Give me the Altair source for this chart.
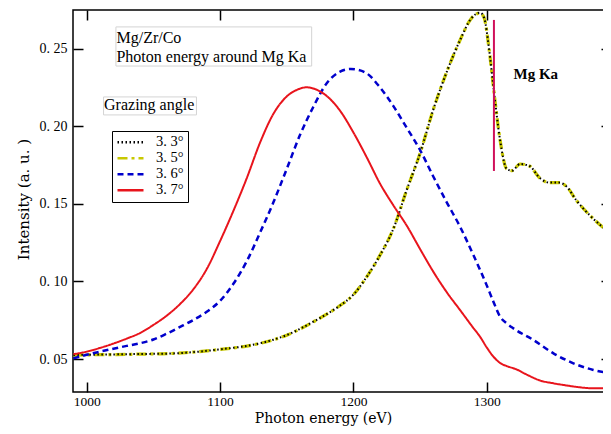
import altair as alt
import pandas as pd

# ---------------- data ----------------
angles = ["3.3°", "3.5°", "3.6°", "3.7°"]
colors = ["#000000", "#c8c800", "#0000cc", "#e8141c"]
dashes = [[1.5, 2.5], [10, 4, 3, 4], [6, 4], [1, 0]]
widths = [2, 3.2, 2.5, 2]

e_33 = [990, 1000, 1020, 1040, 1060, 1080, 1100, 1120, 1130, 1140, 1150, 1160, 1170,
        1180, 1190, 1200, 1210, 1220, 1230, 1240, 1250, 1260, 1270, 1280, 1288, 1295,
        1298, 1302, 1305, 1310, 1315, 1319, 1325, 1332, 1340, 1347, 1354, 1360, 1367,
        1377, 1391]
i_33 = [0.0526, 0.0528, 0.0530, 0.0533, 0.0535, 0.0545, 0.0563, 0.0585, 0.0602, 0.0625,
        0.0655, 0.0695, 0.0741, 0.0790, 0.0845, 0.0915, 0.1030, 0.1170, 0.1340, 0.1590,
        0.1826, 0.2110, 0.2350, 0.2555, 0.2690, 0.2732, 0.2700, 0.2480, 0.2255, 0.1912,
        0.1725, 0.1714, 0.1757, 0.1744, 0.1665, 0.1637, 0.1637, 0.1611, 0.1525, 0.1429,
        0.1321]

e_35 = [990, 1000, 1020, 1040, 1060, 1080, 1100, 1120, 1130, 1140, 1150, 1160, 1170,
        1180, 1190, 1200, 1210, 1220, 1230, 1240, 1250, 1260, 1270, 1280, 1288, 1295,
        1298, 1302, 1305, 1310, 1315, 1319, 1325, 1332, 1340, 1347, 1354, 1360, 1367,
        1377, 1391]
i_35 = [0.0524, 0.0527, 0.0529, 0.0532, 0.0535, 0.0545, 0.0562, 0.0584, 0.0601, 0.0624,
        0.0654, 0.0694, 0.0740, 0.0789, 0.0845, 0.0915, 0.1030, 0.1170, 0.1340, 0.1590,
        0.1826, 0.2110, 0.2350, 0.2555, 0.2690, 0.2730, 0.2700, 0.2480, 0.2255, 0.1912,
        0.1725, 0.1714, 0.1757, 0.1744, 0.1665, 0.1637, 0.1637, 0.1611, 0.1525, 0.1429,
        0.1321]

e_36 = [990, 1000, 1010, 1020, 1030, 1040, 1050, 1060, 1070, 1080, 1090, 1100, 1110,
        1120, 1130, 1140, 1150, 1160, 1170, 1180, 1190, 1198, 1205, 1210, 1220, 1230,
        1240, 1250, 1260, 1270, 1280, 1290, 1300, 1305, 1310, 1315, 1320, 1335, 1350,
        1365, 1380, 1392]
i_36 = [0.0505, 0.0528, 0.0548, 0.0567, 0.0585, 0.0602, 0.0626, 0.0664, 0.0707, 0.0752,
        0.0805, 0.0875, 0.0985, 0.1130, 0.1315, 0.1510, 0.1725, 0.1945, 0.2126, 0.2277,
        0.2352, 0.2369, 0.2360, 0.2341, 0.2250, 0.2130, 0.1990, 0.1847, 0.1675, 0.1510,
        0.1353, 0.1170, 0.0975, 0.0870, 0.0773, 0.0730, 0.0698, 0.0623, 0.0537, 0.0473,
        0.0430, 0.0409]

e_37 = [990, 1000, 1010, 1020, 1030, 1040, 1050, 1060, 1070, 1080, 1090, 1100, 1110,
        1120, 1130, 1140, 1150, 1158, 1165, 1172, 1180, 1190, 1200, 1210, 1220, 1230,
        1240, 1250, 1260, 1270, 1280, 1290, 1295, 1300, 1305, 1310, 1315, 1322, 1330,
        1340, 1350, 1360, 1370, 1380, 1392]
i_37 = [0.0532, 0.0548, 0.0572, 0.0600, 0.0632, 0.0668, 0.0720, 0.0780, 0.0855, 0.0950,
        0.1080, 0.1260, 0.1455, 0.1665, 0.1895, 0.2080, 0.2192, 0.2236, 0.2251, 0.2237,
        0.2195, 0.2100, 0.1960, 0.1800, 0.1630, 0.1490, 0.1360, 0.1209, 0.1062, 0.0931,
        0.0816, 0.0700, 0.0644, 0.0575, 0.0516, 0.0475, 0.0455, 0.0435, 0.0400, 0.0362,
        0.0344, 0.0330, 0.0318, 0.0312, 0.0312]

x_ticks = [1000, 1100, 1200, 1300]
y_ticks = [0.05, 0.10, 0.15, 0.20, 0.25]
x_domain = [989.7, 1393.2]
y_domain = [0.0288, 0.2749]

mg_line_e = [1305.4]
mg_line_lo = [0.1712]
mg_line_hi = [0.2685]
mg_label = ["Mg Ka"]
mg_label_e = [1320.1]
mg_label_i = [0.2307]

note_texts = ["Mg/Zr/Co", "Photon energy around Mg Ka", "Grazing angle"]
note_e = [1022.3, 1022.3, 1013.0]
note_i = [0.2536, 0.2414, 0.2105]
box_e0 = [1021.9, 1012.6]
box_e1 = [1168.7, 1082.3]
box_i0 = [0.2388, 0.2073]
box_i1 = [0.2640, 0.2189]

# ---------------- tables ----------------
series = {"3.3°": (e_33, i_33), "3.5°": (e_35, i_35), "3.6°": (e_36, i_36), "3.7°": (e_37, i_37)}
rows = []
for a, (es, iv) in series.items():
    for e, v in zip(es, iv):
        rows.append({"angle": a, "E": e, "I": v})
df = pd.DataFrame(rows)

mg_df = pd.DataFrame({"E": mg_line_e, "I0": mg_line_lo, "I1": mg_line_hi})
mg_lbl = pd.DataFrame({"E": mg_label_e, "I": mg_label_i, "t": mg_label})
notes = pd.DataFrame({"E": note_e, "I": note_i, "t": note_texts})
boxes = pd.DataFrame({"E0": box_e0, "E1": box_e1, "I0": box_i0, "I1": box_i1})

xs = alt.Scale(domain=x_domain, nice=False, zero=False)
ys = alt.Scale(domain=y_domain, nice=False, zero=False)

ax_x_main = alt.Axis(values=x_ticks, ticks=False, tickSize=0, domain=False, grid=False,
                     format="d",
                     labelFont="Liberation Serif", labelFontSize=13.5, labelColor="black",
                     labelPadding=2, labelFlush=False,
                     title="Photon energy (eV)", titleFont="DejaVu Serif", titleFontSize=14,
                     titleFontWeight="normal", titleColor="black", titleX=250, titleY=30,
                     titleBaseline="alphabetic", titleAlign="center")
ax_y_main = alt.Axis(values=y_ticks, ticks=False, tickSize=0, domain=False, grid=False,
                     labelExpr="replace(format(datum.value, '.2f'), '.', '. ')",
                     labelFont="Liberation Serif", labelFontSize=14, labelColor="black",
                     labelPadding=6, labelFlush=False,
                     title="Intensity (a. u. )", titleFont="DejaVu Serif", titleFontSize=15,
                     titleFontWeight="normal", titleColor="black", titleX=-45, titleY=189,
                     titleAngle=270, titleBaseline="alphabetic", titleAlign="center")


def tick_axis(orient, vals):
    return alt.Axis(orient=orient, values=vals, offset=-10, tickSize=10, tickWidth=1.5,
                    tickColor="black", labels=False, domain=False, grid=False)


legend = alt.Legend(title=None, orient="none", legendX=39, legendY=121,
                    symbolType="stroke", symbolSize=676, symbolStrokeWidth=2.5,
                    labelFont="Liberation Serif", labelFontSize=14.5, labelColor="black",
                    labelOffset=11, clipHeight=14.4, rowPadding=0, padding=4,
                    strokeColor="black", labelExpr="replace(datum.label, '.', '. ')")

color = alt.Color("angle:N", scale=alt.Scale(domain=angles, range=colors), legend=legend)
dash = alt.StrokeDash("angle:N", scale=alt.Scale(domain=angles, range=dashes), legend=legend)

draw_order = ["3.5°", "3.3°", "3.6°", "3.7°"]
line_layers = []
for k, a in enumerate(draw_order):
    w = widths[angles.index(a)]
    if k == 0:
        xenc = alt.X("E:Q", scale=xs, axis=ax_x_main)
        yenc = alt.Y("I:Q", scale=ys, axis=ax_y_main)
    else:
        xenc = alt.X("E:Q", scale=xs, axis=None)
        yenc = alt.Y("I:Q", scale=ys, axis=None)
    line_layers.append(
        alt.Chart(df).transform_filter(alt.datum.angle == a)
        .mark_line(interpolate="monotone", strokeWidth=w, strokeCap="butt", clip=True)
        .encode(x=xenc, y=yenc, color=color, strokeDash=dash, order=alt.Order("E:Q"))
    )

box_layer = alt.Chart(boxes).mark_rect(fill="white", stroke="#d4d4d4", strokeWidth=1).encode(
    x=alt.X("E0:Q", scale=xs, axis=None), x2="E1:Q",
    y=alt.Y("I0:Q", scale=ys, axis=None), y2="I1:Q")

note_layer = alt.Chart(notes).mark_text(align="left", baseline="alphabetic",
                                         font="Liberation Serif", fontSize=16, color="black").encode(
    x=alt.X("E:Q", scale=xs, axis=None), y=alt.Y("I:Q", scale=ys, axis=None), text="t:N")

mg_rule = alt.Chart(mg_df).mark_rule(color="#d0105a", strokeWidth=2).encode(
    x=alt.X("E:Q", scale=xs, axis=tick_axis("bottom", x_ticks), title=None),
    y=alt.Y("I0:Q", scale=ys, axis=tick_axis("left", y_ticks), title=None),
    y2="I1:Q")

mg_text = alt.Chart(mg_lbl).mark_text(align="left", baseline="alphabetic",
                                       font="Liberation Serif", fontSize=15,
                                       fontWeight="bold", color="black").encode(
    x=alt.X("E:Q", scale=xs, axis=tick_axis("top", x_ticks), title=None),
    y=alt.Y("I:Q", scale=ys, axis=tick_axis("right", y_ticks), title=None),
    text="t:N")

chart = alt.layer(
    *line_layers, mg_rule, mg_text, box_layer, note_layer
).resolve_axis(x="independent", y="independent").properties(
    width=538, height=382,
    autosize=alt.AutoSizeParams(type="none"),
    padding={"left": 65, "top": 2, "right": -8, "bottom": 34},
    background="white",
).configure_view(stroke="black", strokeWidth=1.5)

chart.save("out.html", embed_options={"renderer": "svg", "actions": False})
